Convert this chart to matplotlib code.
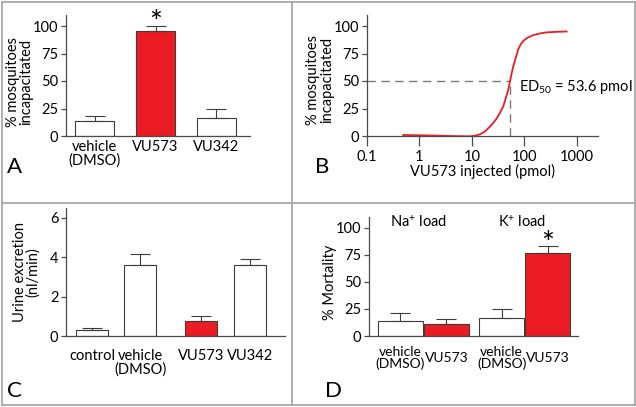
import numpy as np
import matplotlib
matplotlib.use("Agg")
import matplotlib.pyplot as plt
from matplotlib.lines import Line2D

plt.rcParams['font.family'] = ['Lato', 'DejaVu Sans']
plt.rcParams['mathtext.fontset'] = 'custom'
plt.rcParams['mathtext.rm'] = 'Lato'
plt.rcParams['mathtext.it'] = 'Lato'
plt.rcParams['mathtext.bf'] = 'Lato'

# ---------------- data ----------------
a_labels = ["vehicle\n(DMSO)", "VU573", "VU342"]
a_values = [13.6, 95.5, 16.6]
a_err = [4.9, 4.2, 8.4]

b_dose = [0.49, 1.18, 2.0, 3.81, 6.0, 9.17, 11.5, 14.2, 17.5, 22.0, 25.5, 29.5, 34.0, 39.4,
          44.0, 49.1, 53.0, 57.0, 61.2, 68.0, 76.2, 85.0, 94.8, 115, 147, 200, 265, 400, 637]
b_resp = [0.9, 0.6, 0.4, 0.0, -0.2, -0.3, 0.3, 1.5, 4.0, 8.5, 12.0, 16.0, 21.0, 27.0,
          34.5, 42.0, 50.0, 57.0, 63.5, 71.0, 79.0, 83.5, 86.5, 89.5, 91.7, 93.3, 94.2, 94.7, 95.0]
b_ed50 = 53.6
b_xticks = [0.1, 1, 10, 100, 1000]
b_xticklabels = ["0.1", "1", "10", "100", "1000"]

c_labels = ["control", "vehicle\n(DMSO)", "VU573", "VU342"]
c_values = [0.32, 3.61, 0.75, 3.61]
c_err = [0.09, 0.53, 0.27, 0.29]

d_labels = ["vehicle\n(DMSO)", "VU573", "vehicle\n(DMSO)", "VU573"]
d_values = [13.5, 11.4, 16.6, 76.9]
d_err = [7.7, 3.9, 8.6, 6.7]
d_groups = ["Na$^{+}$ load", "K$^{+}$ load"]

yticks_pct = [0, 25, 50, 75, 100]
yticks_c = [0, 2, 4, 6]

# ---------------- style ----------------
RED = '#ec1c24'
EDGE = '#3c3c3c'
SPINE = '#4a4a4a'
FS = 10.5
W, H = 636, 407

fig = plt.figure(figsize=(W / 100, H / 100), dpi=100)


def ax_px(l, t, r, b):
    return fig.add_axes([l / W, 1 - b / H, (r - l) / W, (b - t) / H])


def style(ax):
    for s in ['top', 'right']:
        ax.spines[s].set_visible(False)
    for s in ['left', 'bottom']:
        ax.spines[s].set_color(SPINE)
        ax.spines[s].set_linewidth(0.9)
    ax.tick_params(axis='y', direction='out', length=3.5, width=0.9, color=SPINE,
                   labelsize=FS, pad=2)
    ax.tick_params(axis='x', labelsize=FS)
    ax.set_facecolor('none')


def bars(ax, pos, vals, errs, colors, width, capsize):
    ax.bar(pos, vals, width=width, color=colors, edgecolor=EDGE, linewidth=0.8, zorder=2)
    ax.errorbar(pos, vals, yerr=[np.zeros(len(vals)), errs], fmt='none',
                ecolor=EDGE, elinewidth=0.8, capsize=capsize, capthick=0.8, zorder=3)


# ---------------- panel A ----------------
axA = ax_px(66, 15, 250, 136)
style(axA)
posA = np.arange(len(a_values))
bars(axA, posA, a_values, a_err, ['white', RED, 'white'], 0.64, 7.5)
axA.set_xlim(-0.47, 2.55)
axA.set_ylim(0, 110)
axA.set_yticks(yticks_pct)
axA.set_xticks(posA)
axA.set_xticklabels(a_labels, linespacing=0.95)
axA.tick_params(axis='x', length=0, pad=3)
axA.set_ylabel("% mosquitoes\nincapacitated", fontsize=FS, linespacing=0.95, va='center')
axA.yaxis.set_label_coords((19.5 - 66) / 184, 0.45)
axA.text(posA[1], 103, "*", fontsize=22, ha='center', va='center', clip_on=False)

# ---------------- panel B ----------------
axB = ax_px(367, 15, 598, 136)
style(axB)
axB.set_xscale('log')
axB.plot(b_dose, b_resp, color=RED, lw=1.3, zorder=3)
axB.plot([0.1, b_ed50], [50, 50], color='#7a7a7a', lw=1.0, dashes=(6, 4), zorder=2)
axB.plot([b_ed50, b_ed50], [0, 50], color='#7a7a7a', lw=1.0, dashes=(6, 4), zorder=2)
axB.set_xlim(0.1, 2512)
axB.set_ylim(0, 110)
axB.set_yticks(yticks_pct)
axB.set_xticks(b_xticks)
axB.set_xticklabels(b_xticklabels)
axB.xaxis.set_minor_locator(matplotlib.ticker.NullLocator())
axB.tick_params(axis='x', direction='out', length=7, width=0.9, color=SPINE, pad=3)
axB.set_xlabel("VU573 injected (pmol)", fontsize=FS, labelpad=0)
axB.set_ylabel("% mosquitoes\nincapacitated", fontsize=FS, linespacing=0.95, va='center')
axB.yaxis.set_label_coords((320 - 367) / 231, 0.46)
axB.text(80, 45, "ED$_{50}$ = 53.6 pmol", fontsize=FS, ha='left', va='center')

# ---------------- panel C ----------------
axC = ax_px(66, 208, 285, 336)
style(axC)
posC = np.array([0, 1, 2.25, 3.25])
bars(axC, posC, c_values, c_err, ['white', 'white', RED, 'white'], 0.66, 7)
axC.set_xlim(-0.536, 3.98)
axC.set_ylim(0, 6.5)
axC.set_yticks(yticks_c)
axC.set_xticks(posC)
axC.set_xticklabels(c_labels, linespacing=0.95)
axC.tick_params(axis='x', length=0, pad=9)
axC.set_ylabel("Urine excretion\n(nl/min)", fontsize=FS, linespacing=0.95, va='center')
axC.yaxis.set_label_coords((26.5 - 66) / 219, 0.5)

# ---------------- panel D ----------------
axD = ax_px(369, 217, 578, 336)
style(axD)
posD = np.array([0, 1, 2.2, 3.2])
bars(axD, posD, d_values, d_err, ['white', RED, 'white', RED], 0.99, 7)
axD.set_xlim(-0.685, 3.86)
axD.set_ylim(0, 110)
axD.set_yticks(yticks_pct)
axD.set_xticks(posD)
axD.set_xticklabels(d_labels, linespacing=0.95, va='center', fontsize=10)
axD.tick_params(axis='x', length=0, pad=16)
axD.set_ylabel("% Mortality", fontsize=FS, va='center')
axD.yaxis.set_label_coords((330 - 369) / 209, 0.45)
axD.text(0.38, 105, d_groups[0], fontsize=FS, ha='center', va='center', clip_on=False)
axD.text(2.64, 105, d_groups[1], fontsize=FS, ha='center', va='center', clip_on=False)
axD.text(posD[3], 85, "*", fontsize=22, ha='center', va='center', clip_on=False)

# ---------------- panel letters ----------------
for letter, x, y in [("A", 7, 173), ("B", 315, 173), ("C", 7, 397), ("D", 325, 397)]:
    fig.text(x / W, 1 - y / H, letter, fontsize=16, ha='left', va='baseline')

# ---------------- frame lines ----------------
GR = '#a8a8a8'
for (x0, y0, x1, y1) in [(1.5, 1.5, 634.5, 1.5), (1.5, 405, 634.5, 405),
                         (1.5, 1.5, 1.5, 405), (634.5, 1.5, 634.5, 405),
                         (291.7, 1.5, 291.7, 405), (1.5, 203.3, 634.5, 203.3)]:
    fig.add_artist(Line2D([x0 / W, x1 / W], [1 - y0 / H, 1 - y1 / H],
                          color=GR, lw=1.3, transform=fig.transFigure))

fig.savefig("out.png", dpi=100)
